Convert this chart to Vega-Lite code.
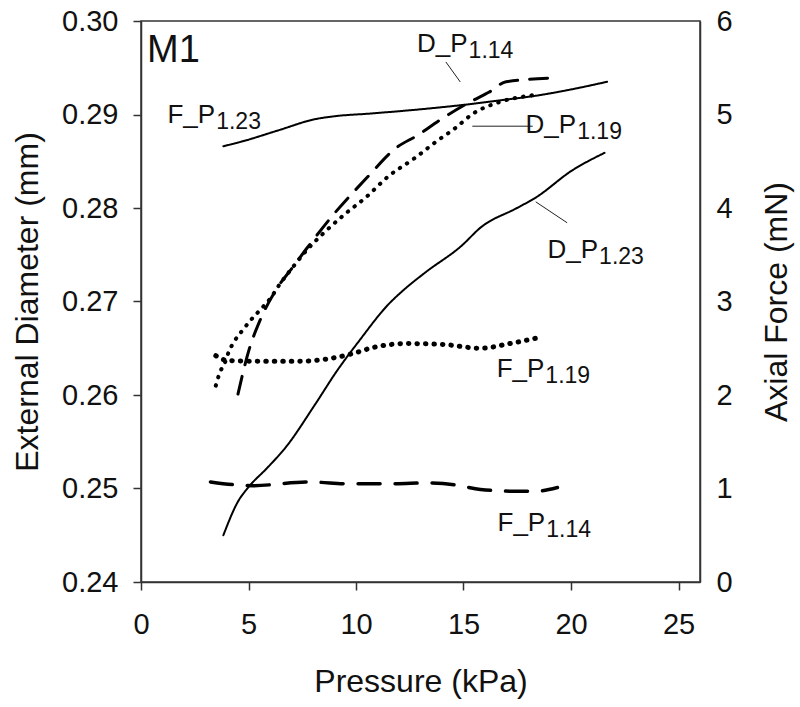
{
  "$schema": "https://vega.github.io/schema/vega-lite/v6.json",
  "width": 559,
  "height": 561,
  "autosize": {"type": "none"},
  "padding": {"left": 141, "top": 21, "right": 100, "bottom": 125},
  "background": "white",
  "config": {
    "font": "Liberation Sans",
    "view": {"stroke": "#333", "strokeWidth": 1.5},
    "axis": {
      "grid": false,
      "domainColor": "#333",
      "domainWidth": 1.5,
      "tickColor": "#333",
      "tickWidth": 1.5,
      "tickSize": 8,
      "labelColor": "#111",
      "labelFontSize": 29,
      "labelFlush": false,
      "labelOverlap": false,
      "labelBound": false,
      "titleColor": "#111",
      "titleFontSize": 32,
      "titleFontWeight": "normal"
    }
  },
  "datasets": {
    "diam": [
      {"series": "D_P1.23", "P": 3.83, "D": 0.2450},
      {"series": "D_P1.23", "P": 4.51, "D": 0.2486},
      {"series": "D_P1.23", "P": 5.02, "D": 0.2502},
      {"series": "D_P1.23", "P": 5.87, "D": 0.2522},
      {"series": "D_P1.23", "P": 6.73, "D": 0.2544},
      {"series": "D_P1.23", "P": 8.10, "D": 0.2590},
      {"series": "D_P1.23", "P": 9.12, "D": 0.2626},
      {"series": "D_P1.23", "P": 10.15, "D": 0.2658},
      {"series": "D_P1.23", "P": 11.51, "D": 0.2697},
      {"series": "D_P1.23", "P": 12.20, "D": 0.2712},
      {"series": "D_P1.23", "P": 13.22, "D": 0.2731},
      {"series": "D_P1.23", "P": 14.93, "D": 0.2760},
      {"series": "D_P1.23", "P": 15.79, "D": 0.2779},
      {"series": "D_P1.23", "P": 17.49, "D": 0.2800},
      {"series": "D_P1.23", "P": 18.35, "D": 0.2811},
      {"series": "D_P1.23", "P": 20.04, "D": 0.2840},
      {"series": "D_P1.23", "P": 21.56, "D": 0.2859},
      {"series": "D_P1.14", "P": 4.51, "D": 0.2601},
      {"series": "D_P1.14", "P": 5.02, "D": 0.2648},
      {"series": "D_P1.14", "P": 5.54, "D": 0.2680},
      {"series": "D_P1.14", "P": 6.38, "D": 0.2716},
      {"series": "D_P1.14", "P": 7.07, "D": 0.2737},
      {"series": "D_P1.14", "P": 7.75, "D": 0.2758},
      {"series": "D_P1.14", "P": 8.95, "D": 0.2793},
      {"series": "D_P1.14", "P": 9.80, "D": 0.2815},
      {"series": "D_P1.14", "P": 10.49, "D": 0.2832},
      {"series": "D_P1.14", "P": 11.85, "D": 0.2864},
      {"series": "D_P1.14", "P": 12.88, "D": 0.2878},
      {"series": "D_P1.14", "P": 13.90, "D": 0.2894},
      {"series": "D_P1.14", "P": 15.27, "D": 0.2913},
      {"series": "D_P1.14", "P": 16.20, "D": 0.2924},
      {"series": "D_P1.14", "P": 16.98, "D": 0.2935},
      {"series": "D_P1.14", "P": 19.20, "D": 0.2939},
      {"series": "D_P1.19", "P": 3.48, "D": 0.2610},
      {"series": "D_P1.19", "P": 3.65, "D": 0.2623},
      {"series": "D_P1.19", "P": 3.91, "D": 0.2635},
      {"series": "D_P1.19", "P": 4.08, "D": 0.2646},
      {"series": "D_P1.19", "P": 4.33, "D": 0.2657},
      {"series": "D_P1.19", "P": 4.68, "D": 0.2668},
      {"series": "D_P1.19", "P": 5.10, "D": 0.2680},
      {"series": "D_P1.19", "P": 5.54, "D": 0.2691},
      {"series": "D_P1.19", "P": 6.04, "D": 0.2704},
      {"series": "D_P1.19", "P": 6.38, "D": 0.2716},
      {"series": "D_P1.19", "P": 7.07, "D": 0.2737},
      {"series": "D_P1.19", "P": 7.75, "D": 0.2756},
      {"series": "D_P1.19", "P": 8.44, "D": 0.2772},
      {"series": "D_P1.19", "P": 9.46, "D": 0.2793},
      {"series": "D_P1.19", "P": 10.49, "D": 0.2812},
      {"series": "D_P1.19", "P": 11.51, "D": 0.2834},
      {"series": "D_P1.19", "P": 12.71, "D": 0.2853},
      {"series": "D_P1.19", "P": 13.73, "D": 0.2871},
      {"series": "D_P1.19", "P": 14.59, "D": 0.2885},
      {"series": "D_P1.19", "P": 15.45, "D": 0.2901},
      {"series": "D_P1.19", "P": 16.64, "D": 0.2913},
      {"series": "D_P1.19", "P": 18.35, "D": 0.2921}
    ],
    "force": [
      {"series": "F_P1.23", "P": 3.83, "F": 4.66},
      {"series": "F_P1.23", "P": 4.68, "F": 4.71},
      {"series": "F_P1.23", "P": 6.38, "F": 4.83},
      {"series": "F_P1.23", "P": 8.10, "F": 4.95},
      {"series": "F_P1.23", "P": 8.95, "F": 4.98},
      {"series": "F_P1.23", "P": 10.66, "F": 5.01},
      {"series": "F_P1.23", "P": 13.20, "F": 5.06},
      {"series": "F_P1.23", "P": 15.27, "F": 5.11},
      {"series": "F_P1.23", "P": 16.64, "F": 5.15},
      {"series": "F_P1.23", "P": 18.35, "F": 5.20},
      {"series": "F_P1.23", "P": 20.05, "F": 5.27},
      {"series": "F_P1.23", "P": 21.68, "F": 5.35},
      {"series": "F_P1.19", "P": 3.48, "F": 2.42},
      {"series": "F_P1.19", "P": 4.00, "F": 2.37},
      {"series": "F_P1.19", "P": 5.54, "F": 2.36},
      {"series": "F_P1.19", "P": 7.23, "F": 2.36},
      {"series": "F_P1.19", "P": 8.78, "F": 2.39},
      {"series": "F_P1.19", "P": 9.80, "F": 2.44},
      {"series": "F_P1.19", "P": 10.83, "F": 2.51},
      {"series": "F_P1.19", "P": 12.37, "F": 2.55},
      {"series": "F_P1.19", "P": 14.08, "F": 2.54},
      {"series": "F_P1.19", "P": 15.79, "F": 2.50},
      {"series": "F_P1.19", "P": 17.15, "F": 2.55},
      {"series": "F_P1.19", "P": 18.43, "F": 2.61},
      {"series": "F_P1.14", "P": 3.23, "F": 1.07},
      {"series": "F_P1.14", "P": 5.19, "F": 1.03},
      {"series": "F_P1.14", "P": 7.75, "F": 1.07},
      {"series": "F_P1.14", "P": 9.80, "F": 1.05},
      {"series": "F_P1.14", "P": 11.85, "F": 1.05},
      {"series": "F_P1.14", "P": 13.22, "F": 1.06},
      {"series": "F_P1.14", "P": 14.59, "F": 1.04},
      {"series": "F_P1.14", "P": 15.79, "F": 0.99},
      {"series": "F_P1.14", "P": 17.49, "F": 0.97},
      {"series": "F_P1.14", "P": 18.35, "F": 0.97},
      {"series": "F_P1.14", "P": 19.37, "F": 1.01}
    ],
    "labels": [
      {"P": 15.19, "D": 0.29669, "main": "D_P", "sub": "1.14"},
      {"P": 20.24, "D": 0.28800, "main": "D_P", "sub": "1.19"},
      {"P": 21.26, "D": 0.27465, "main": "D_P", "sub": "1.23"},
      {"P": 3.45, "D": 0.28907, "main": "F_P", "sub": "1.23"},
      {"P": 18.76, "D": 0.26197, "main": "F_P", "sub": "1.19"},
      {"P": 18.80, "D": 0.24550, "main": "F_P", "sub": "1.14"}
    ],
    "leaders": [
      {"P": 14.18, "D": 0.29562, "P2": 14.85, "D2": 0.29348},
      {"P": 15.41, "D": 0.28875, "P2": 18.22, "D2": 0.28875},
      {"P": 18.36, "D": 0.28066, "P2": 19.82, "D2": 0.27842}
    ],
    "panel": [
      {"P": 0.28, "D": 0.29559, "name": "M1"}
    ]
  },
  "layer": [
    {
      "layer": [
        {
          "data": {"name": "diam"},
          "mark": {"type": "line", "interpolate": "monotone", "strokeCap": "round", "color": "black"},
          "encoding": {
            "x": {"field": "P", "type": "quantitative", "scale": {"domain": [0, 25]},
                  "axis": {"title": "Pressure (kPa)", "values": [0, 5, 10, 15, 20, 25], "labelPadding": 20, "titlePadding": 27}},
            "y": {"field": "D", "type": "quantitative", "scale": {"domain": [0.24, 0.30], "zero": false},
                  "axis": {"title": "External Diameter (mm)", "values": [0.24, 0.25, 0.26, 0.27, 0.28, 0.29, 0.30], "format": ".2f", "labelPadding": 15, "titlePadding": 17}},
            "detail": {"field": "series"},
            "strokeDash": {"field": "series", "type": "nominal", "legend": null,
                           "scale": {"domain": ["D_P1.23", "D_P1.14", "D_P1.19"], "range": [[1, 0], [18, 12], [0.5, 8]]}},
            "strokeWidth": {"field": "series", "type": "nominal", "legend": null,
                            "scale": {"domain": ["D_P1.23", "D_P1.14", "D_P1.19"], "range": [2, 4, 4]}}
          }
        },
        {
          "data": {"name": "leaders"},
          "mark": {"type": "rule", "color": "#222", "strokeWidth": 1},
          "encoding": {
            "x": {"field": "P", "type": "quantitative"},
            "y": {"field": "D", "type": "quantitative"},
            "x2": {"field": "P2"},
            "y2": {"field": "D2"}
          }
        },
        {
          "data": {"name": "labels"},
          "mark": {"type": "text", "align": "right", "baseline": "alphabetic", "fontSize": 26, "color": "#111"},
          "encoding": {
            "x": {"field": "P", "type": "quantitative"},
            "y": {"field": "D", "type": "quantitative"},
            "text": {"field": "main"}
          }
        },
        {
          "data": {"name": "labels"},
          "mark": {"type": "text", "align": "left", "baseline": "alphabetic", "fontSize": 23, "dy": 6, "dx": 1, "color": "#111"},
          "encoding": {
            "x": {"field": "P", "type": "quantitative"},
            "y": {"field": "D", "type": "quantitative"},
            "text": {"field": "sub"}
          }
        },
        {
          "data": {"name": "panel"},
          "mark": {"type": "text", "align": "left", "baseline": "alphabetic", "fontSize": 38, "color": "#111"},
          "encoding": {
            "x": {"field": "P", "type": "quantitative"},
            "y": {"field": "D", "type": "quantitative"},
            "text": {"field": "name"}
          }
        }
      ]
    },
    {
      "data": {"name": "force"},
      "mark": {"type": "line", "interpolate": "monotone", "strokeCap": "round", "color": "black"},
      "encoding": {
        "x": {"field": "P", "type": "quantitative", "scale": {"domain": [0, 25]},
              "axis": {"title": "Pressure (kPa)", "values": [0, 5, 10, 15, 20, 25], "labelPadding": 20, "titlePadding": 27}},
        "y": {"field": "F", "type": "quantitative", "scale": {"domain": [0, 6]},
              "axis": {"orient": "right", "title": "Axial Force (mN)", "values": [0, 1, 2, 3, 4, 5, 6], "tickSize": 0, "labelPadding": 16, "titlePadding": 29, "titleAngle": 270, "titleBaseline": "top"}},
        "detail": {"field": "series"},
        "strokeDash": {"field": "series", "type": "nominal", "legend": null,
                       "scale": {"domain": ["F_P1.23", "F_P1.14", "F_P1.19"], "range": [[1, 0], [22, 15], [0.5, 8]]}},
        "strokeWidth": {"field": "series", "type": "nominal", "legend": null,
                        "scale": {"domain": ["F_P1.23", "F_P1.14", "F_P1.19"], "range": [2, 5, 4]}}
      }
    }
  ],
  "resolve": {"scale": {"y": "independent", "strokeDash": "independent", "strokeWidth": "independent"}}
}
